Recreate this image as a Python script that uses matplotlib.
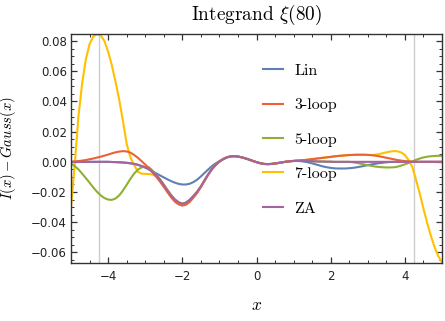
import numpy as np
import matplotlib
matplotlib.use('Agg')
import matplotlib.pyplot as plt
from matplotlib.ticker import MultipleLocator, FuncFormatter

plt.rcParams['mathtext.fontset'] = 'cm'
plt.rcParams['axes.unicode_minus'] = True

# sample positions (x) and curve values, step 0.1
x = np.linspace(-5, 5, 101)

lin = [
    0, 0, 0, 0, 0, 0, 0, 0, 0, 0,
    0, -0.0001, -0.0002, -0.0003, -0.0004, -0.0006, -0.0009, -0.0013, -0.0019, -0.0027,
    -0.0037, -0.0050, -0.0064, -0.0077, -0.0090, -0.0103, -0.0116, -0.0128, -0.0138, -0.0146,
    -0.0150, -0.0150, -0.0145, -0.0134, -0.0118, -0.0097, -0.0073, -0.0050, -0.0028, -0.0010,
    0.0005, 0.0018, 0.0029, 0.0035, 0.0037, 0.0035, 0.0030, 0.0023, 0.0015, 0.0006,
    -0.0002, -0.0009, -0.0014, -0.0015, -0.0014, -0.0011, -0.0007, -0.0003, 0.0001, 0.0004,
    0.0006, 0.0006, 0.0004, 0.0001, -0.0004, -0.0010, -0.0017, -0.0024, -0.0031, -0.0036,
    -0.0040, -0.0043, -0.0044, -0.0044, -0.0044, -0.0042, -0.0040, -0.0036, -0.0032, -0.0027,
    -0.0022, -0.0017, -0.0013, -0.0009, -0.0006, -0.0003, -0.0001, 0, 0, 0,
    0, 0, 0, 0, 0, 0, 0, 0, 0, 0,
    0]

loop3 = [
    0.0000, 0.0002, 0.0005, 0.0008, 0.0012, 0.0017, 0.0022, 0.0028, 0.0034, 0.0041,
    0.0048, 0.0056, 0.0063, 0.0068, 0.0071, 0.0069, 0.0061, 0.0046, 0.0027, 0.0005,
    -0.0018, -0.0042, -0.0072, -0.0100, -0.0132, -0.0166, -0.0202, -0.0236, -0.0264, -0.0282,
    -0.0290, -0.0284, -0.0265, -0.0237, -0.0206, -0.0168, -0.0126, -0.0084, -0.0048, -0.0020,
    0.0002, 0.0018, 0.0030, 0.0036, 0.0038, 0.0035, 0.0030, 0.0023, 0.0015, 0.0006,
    -0.0002, -0.0009, -0.0014, -0.0015, -0.0014, -0.0011, -0.0007, -0.0003, 0.0001, 0.0004,
    0.0006, 0.0008, 0.0010, 0.0012, 0.0015, 0.0018, 0.0021, 0.0024, 0.0027, 0.0030,
    0.0033, 0.0036, 0.0039, 0.0041, 0.0043, 0.0045, 0.0046, 0.0047, 0.0047, 0.0047,
    0.0046, 0.0044, 0.0041, 0.0037, 0.0032, 0.0027, 0.0022, 0.0017, 0.0012, 0.0008,
    0.0005, 0.0003, 0.0001, 0, 0, 0, 0, 0, 0, 0,
    0]

loop5 = [
    -0.0012, -0.0028, -0.0050, -0.0078, -0.0108, -0.0138, -0.0170, -0.0198, -0.0222, -0.0240,
    -0.0250, -0.0252, -0.0243, -0.0222, -0.0190, -0.0152, -0.0113, -0.0078, -0.0052, -0.0037,
    -0.0032, -0.0036, -0.0058, -0.0088, -0.0118, -0.0152, -0.0188, -0.0222, -0.0250, -0.0268,
    -0.0278, -0.0270, -0.0252, -0.0226, -0.0198, -0.0163, -0.0122, -0.0082, -0.0048, -0.0020,
    0.0002, 0.0018, 0.0030, 0.0036, 0.0038, 0.0035, 0.0030, 0.0023, 0.0015, 0.0006,
    -0.0002, -0.0009, -0.0014, -0.0015, -0.0014, -0.0011, -0.0007, -0.0003, 0.0001, 0.0004,
    0.0006, 0.0007, 0.0007, 0.0006, 0.0005, 0.0004, 0.0003, 0.0002, 0.0002, 0.0001,
    0.0001, 0, 0, 0, 0, 0.0000, -0.0003, -0.0007, -0.0012, -0.0017,
    -0.0022, -0.0027, -0.0031, -0.0034, -0.0036, -0.0037, -0.0037, -0.0036, -0.0032, -0.0025,
    -0.0016, -0.0007, 0.0003, 0.0013, 0.0022, 0.0029, 0.0034, 0.0037, 0.0039, 0.0040,
    0.0040]

loop7 = [
    -0.0300, -0.0020, 0.0300, 0.0520, 0.0680, 0.0780, 0.0830, 0.0845, 0.0838, 0.0800,
    0.0730, 0.0640, 0.0530, 0.0410, 0.0270, 0.0120, 0.0030, -0.0020, -0.0065, -0.0078,
    -0.0080, -0.0081, -0.0084, -0.0095, -0.0118, -0.0152, -0.0188, -0.0222, -0.0250, -0.0268,
    -0.0278, -0.0270, -0.0252, -0.0226, -0.0198, -0.0163, -0.0122, -0.0082, -0.0048, -0.0020,
    0.0002, 0.0018, 0.0030, 0.0036, 0.0038, 0.0035, 0.0030, 0.0023, 0.0015, 0.0006,
    -0.0002, -0.0009, -0.0014, -0.0015, -0.0014, -0.0011, -0.0007, -0.0003, 0.0001, 0.0004,
    0.0006, 0.0008, 0.0010, 0.0012, 0.0015, 0.0018, 0.0021, 0.0024, 0.0027, 0.0030,
    0.0033, 0.0036, 0.0039, 0.0041, 0.0043, 0.0045, 0.0046, 0.0047, 0.0047, 0.0047,
    0.0046, 0.0045, 0.0047, 0.0051, 0.0057, 0.0063, 0.0068, 0.0071, 0.0070, 0.0062,
    0.0045, 0.0012, -0.0035, -0.0120, -0.0210, -0.0310, -0.0405, -0.0490, -0.0565, -0.0625,
    -0.0665]

za = [
    0, 0, 0, 0, 0, 0, 0, 0, 0, 0,
    0, -0.0001, -0.0002, -0.0003, -0.0005, -0.0007, -0.0010, -0.0014, -0.0020, -0.0028,
    -0.0038, -0.0050, -0.0066, -0.0088, -0.0118, -0.0152, -0.0188, -0.0222, -0.0250, -0.0268,
    -0.0278, -0.0270, -0.0252, -0.0226, -0.0198, -0.0163, -0.0122, -0.0082, -0.0048, -0.0020,
    0.0002, 0.0018, 0.0030, 0.0036, 0.0038, 0.0035, 0.0030, 0.0023, 0.0015, 0.0006,
    -0.0002, -0.0009, -0.0014, -0.0015, -0.0014, -0.0011, -0.0007, -0.0003, 0.0001, 0.0004,
    0.0006, 0.0007, 0.0007, 0.0006, 0.0005, 0.0004, 0.0003, 0.0002, 0.0002, 0.0001,
    0.0001, 0, 0, 0, 0, 0, 0, 0, 0, 0,
    0, 0, 0, 0, 0, 0, 0, 0, 0, 0,
    0, 0, 0, 0, 0, 0, 0, 0, 0, 0,
    0]

labels = ['Lin', '3-loop', '5-loop', '7-loop', 'ZA']
colors = ['#5E81B5', '#EB6235', '#8FB032', '#FFC000', '#A5649F']
zorders = [2.0, 2.3, 2.2, 2.1, 2.4]
series = [lin, loop3, loop5, loop7, za]
vlines = [-4.243, 4.243]

fig = plt.figure(figsize=(4.45, 3.21), dpi=100)
ax = fig.add_axes([0.1596, 0.1807, 0.8337, 0.7149])

for xv in vlines:
    ax.axvline(xv, color='#cccccc', lw=1.0, zorder=1)

for y, lab, c, z in zip(series, labels, colors, zorders):
    ax.plot(x, y, color=c, lw=1.5, label=lab, zorder=z)

ax.set_xlim(-5, 5)
ax.set_ylim(-0.067, 0.085)
ax.set_xticks([-4, -2, 0, 2, 4])
ax.xaxis.set_minor_locator(MultipleLocator(0.5))
ax.set_yticks([-0.06, -0.04, -0.02, 0.0, 0.02, 0.04, 0.06, 0.08])
ax.yaxis.set_minor_locator(MultipleLocator(0.005))
ax.yaxis.set_major_formatter(FuncFormatter(
    lambda v, p: f'{round(v, 4):.2f}'.replace('-', '\u2212')))

ax.tick_params(which='both', direction='in', top=True, right=True,
               color='#333333', labelsize=8.5, labelcolor='#222222')
ax.tick_params(which='major', length=4.5, width=0.9)
ax.tick_params(which='minor', length=2.5, width=0.7)
ax.tick_params(axis='x', pad=5)
ax.tick_params(axis='y', pad=3)
for s in ax.spines.values():
    s.set_color('#333333')
    s.set_linewidth(1.0)

ax.set_title('Integrand $\\xi(80)$', fontfamily='cmr10', fontsize=13.9, pad=10)
ax.set_xlabel('$x$', fontsize=12.5, labelpad=9.5)
ax.set_ylabel('$I(x) - Gauss(x)$', fontsize=10.5, labelpad=9)

ax.legend(loc='center left', bbox_to_anchor=(0.517, 0.538), frameon=False,
          prop={'family': 'cmr10', 'size': 11.5}, handlelength=1.29,
          handletextpad=0.67, labelspacing=1.27, borderpad=0, borderaxespad=0)

fig.savefig('out.png', dpi=100)
